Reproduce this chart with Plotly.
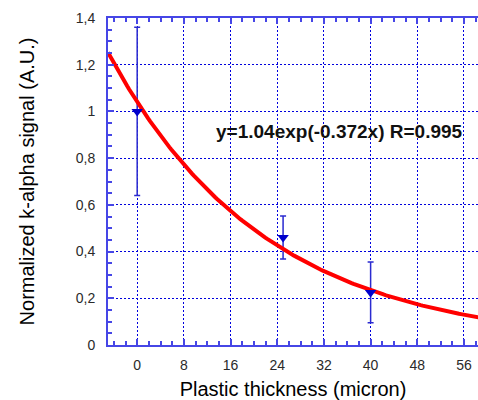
import numpy as np
import plotly.graph_objects as go

# Measured data
thickness = [0, 25, 40]
signal = [1.0, 0.46, 0.225]
signal_err = [0.36, 0.092, 0.13]

# Exponential fit parameters (y = A*exp(-k*x))
fit_A = 1.04
fit_k = 0.0372
fit_label = "y=1.04exp(-0.372x) R=0.995"

x_ticks = [0, 8, 16, 24, 32, 40, 48, 56]
y_ticks = [0, 0.2, 0.4, 0.6, 0.8, 1.0, 1.2, 1.4]
y_ticklabels = ["0", "0,2", "0,4", "0,6", "0,8", "1", "1,2", "1,4"]

x_range = [-5, 58.4]
fit_x = np.linspace(x_range[0], x_range[1] + 2, 200)
fit_y = fit_A * np.exp(-fit_k * fit_x)

blue_axis = "#4646e6"
blue_grid = "#0000dd"

fig = go.Figure()
# error bars (under the fit curve)
fig.add_trace(go.Scatter(
    x=thickness, y=signal, mode="markers",
    marker=dict(size=1, color="rgba(0,0,0,0)"),
    error_y=dict(type="data", array=signal_err, visible=True,
                 color="#2a2ad0", thickness=1.5, width=3),
    showlegend=False, cliponaxis=False,
))
fig.add_trace(go.Scatter(
    x=fit_x, y=fit_y, mode="lines",
    line=dict(color="#ff0000", width=4),
    showlegend=False,
))
# markers on top
fig.add_trace(go.Scatter(
    x=thickness, y=signal, mode="markers",
    marker=dict(symbol="triangle-down", size=10, color="#0000cc"),
    showlegend=False, cliponaxis=False,
))

fig.add_annotation(
    x=0.625, y=0.654, xref="paper", yref="paper",
    text="<b>" + fit_label + "</b>", showarrow=False,
    font=dict(family="Liberation Sans, Arial", size=19, color="#111111"),
)

axis_common = dict(
    showline=True, linecolor=blue_axis, linewidth=2,
    ticks="inside", tickcolor=blue_axis, tickwidth=1.5, ticklen=6,
    showgrid=True, gridcolor=blue_grid, gridwidth=1, griddash="2px,2px",
    zeroline=False,
    tickfont=dict(family="Liberation Sans, Arial", size=14, color="#2a2a2a"),
    title_font=dict(family="Liberation Sans, Arial", size=20, color="#000000"),
)

fig.update_xaxes(
    **axis_common,
    range=x_range, tickvals=x_ticks, ticktext=[str(v) for v in x_ticks],
    mirror="ticks",
    minor=dict(dtick=2, tick0=0, ticks="inside", ticklen=4, tickcolor=blue_axis, tickwidth=1.5, showgrid=False),
    title=dict(text="Plastic thickness (micron)", standoff=12),
    ticklabelstandoff=6,
)
fig.update_yaxes(
    **axis_common,
    range=[0, 1.4], tickvals=y_ticks, ticktext=y_ticklabels,
    mirror=False,
    minor=dict(dtick=0.05, tick0=0, ticks="inside", ticklen=4, tickcolor=blue_axis, tickwidth=1.5, showgrid=False),
    title=dict(text="Normalized k-alpha signal (A.U.)", standoff=36),
    ticklabelstandoff=8,
)

fig.update_layout(
    width=478, height=400,
    margin=dict(l=108, r=0, t=18, b=55, autoexpand=False),
    paper_bgcolor="white", plot_bgcolor="white",
    font=dict(family="Liberation Sans, Arial"),
)

fig.write_html("out.html", config={"displayModeBar": False},
               post_script="document.body.style.margin='0';document.body.style.overflow='hidden';")
